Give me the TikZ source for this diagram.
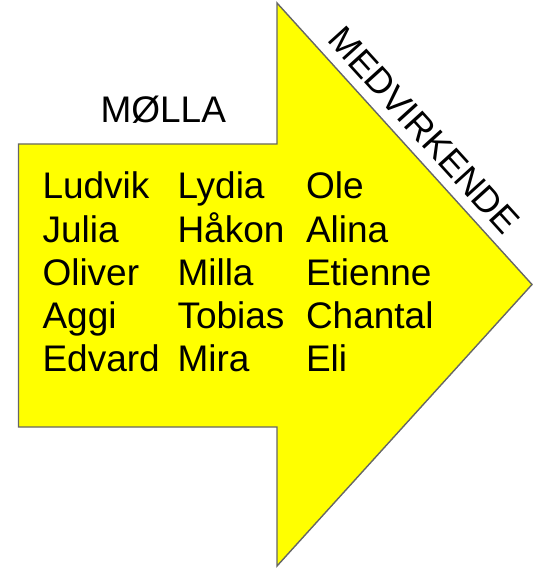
\documentclass[tikz,border=0pt]{standalone}
\usepackage{fontspec}
\setmainfont{Liberation Sans}
\definecolor{arrowyellow}{RGB}{255,255,0}
\begin{document}
\begin{tikzpicture}[x=1pt,y=-1pt,
  arrowshape/.style={fill=arrowyellow, draw=black!60, line width=1.4pt, line join=miter},
  label/.style={inner sep=0pt, outer sep=0pt, font=\fontsize{37}{43}\selectfont, text=black}]
\useasboundingbox (0,0) rectangle (536,569);
\draw[arrowshape] (18.5,144) -- (277,144) -- (277,3) -- (532,284.5) -- (277,566) -- (277,427) -- (18.5,427) -- cycle;
\node[label, anchor=base west] (molla) at (100.5,123) {MØLLA};
\node[label, anchor=base west, rotate=-47.8, font=\fontsize{36}{43}\selectfont] (medv) at (326,40.8) {MEDVIRKENDE};
\foreach \n [count=\i] in {Ludvik,Julia,Oliver,Aggi,Edvard}
  \node[label, anchor=base west] (a\i) at (42.5,{199+43*(\i-1)}) {\n};
\foreach \n [count=\i] in {Lydia,Håkon,Milla,Tobias,Mira}
  \node[label, anchor=base west] (b\i) at (177.5,{199+43*(\i-1)}) {\n};
\foreach \n [count=\i] in {Ole,Alina,Etienne,Chantal,Eli}
  \node[label, anchor=base west] (c\i) at (306,{199+43*(\i-1)}) {\n};
\end{tikzpicture}
\end{document}
